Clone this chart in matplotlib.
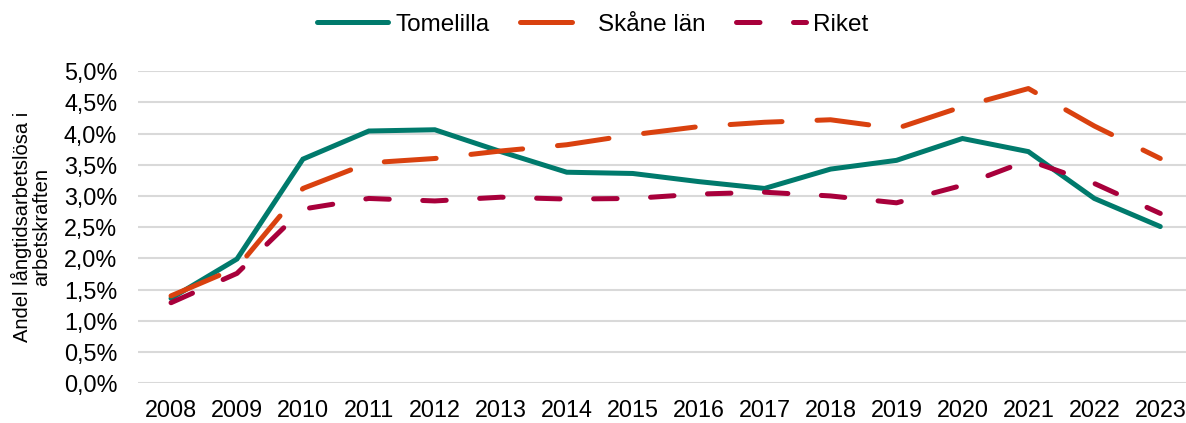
import matplotlib
matplotlib.use("Agg")
import matplotlib.pyplot as plt
from matplotlib.ticker import FuncFormatter

years = [str(y) for y in range(2008, 2024)]
tomelilla = [1.36, 1.99, 3.59, 4.04, 4.06, 3.71, 3.38, 3.36, 3.23, 3.12, 3.43, 3.57, 3.92, 3.71, 2.96, 2.51]
skane = [1.40, 1.85, 3.12, 3.53, 3.60, 3.72, 3.82, 3.98, 4.11, 4.18, 4.22, 4.08, 4.43, 4.72, 4.12, 3.60]
riket = [1.29, 1.76, 2.79, 2.96, 2.92, 2.98, 2.95, 2.96, 3.03, 3.06, 3.00, 2.89, 3.17, 3.57, 3.20, 2.72]
series_names = ["Tomelilla", "Skåne län", "Riket"]
yticks = [0, 0.5, 1.0, 1.5, 2.0, 2.5, 3.0, 3.5, 4.0, 4.5, 5.0]

plt.rcParams['font.family'] = ['Liberation Sans', 'DejaVu Sans']

fig = plt.figure(figsize=(11.86, 4.23), dpi=100)
ax = fig.add_axes([0.1164, 0.0939, 0.8836, 0.7381])

x = list(range(len(years)))
lw = 3.6
ax.plot(x, tomelilla, color="#007A6C", lw=lw, solid_capstyle='round', solid_joinstyle='miter', label=series_names[0], zorder=3)
ax.plot(x, skane, color="#D9410F", lw=lw, dashes=(10.4, 7), dash_capstyle='round', label=series_names[1], zorder=3)
ax.plot(x, riket, color="#A8003B", lw=lw, dashes=(4.7, 6.7), dash_capstyle='round', label=series_names[2], zorder=3)

ax.set_xlim(-0.5, 15.39)
ax.set_ylim(0, 5)
ax.set_yticks(yticks)
ax.yaxis.set_major_formatter(FuncFormatter(lambda v, p: f"{v:.1f}%".replace('.', ',')))
ax.set_xticks(x)
ax.set_xticklabels(years)
ax.grid(axis='y', color='#d9d9d9', lw=1.5, zorder=0)
ax.set_axisbelow(True)
for s in ax.spines.values():
    s.set_visible(False)
ax.tick_params(axis='both', length=0, labelsize=16.8, colors='#000000')
ax.tick_params(axis='x', pad=11)
ax.tick_params(axis='y', pad=15)

ax.set_ylabel("Andel långtidsarbetslösa i\narbetskraften", fontsize=14.5, linespacing=1.0)
ax.yaxis.label.set_va('center')
ax.yaxis.set_label_coords(-0.102, 0.5)

leg = fig.legend(loc='center', bbox_to_anchor=(0.5, 0.941), ncol=3, frameon=False,
                 fontsize=17.5, handlelength=2.9, columnspacing=1.25, handletextpad=0.3)

fig.savefig("out.png", dpi=100)
